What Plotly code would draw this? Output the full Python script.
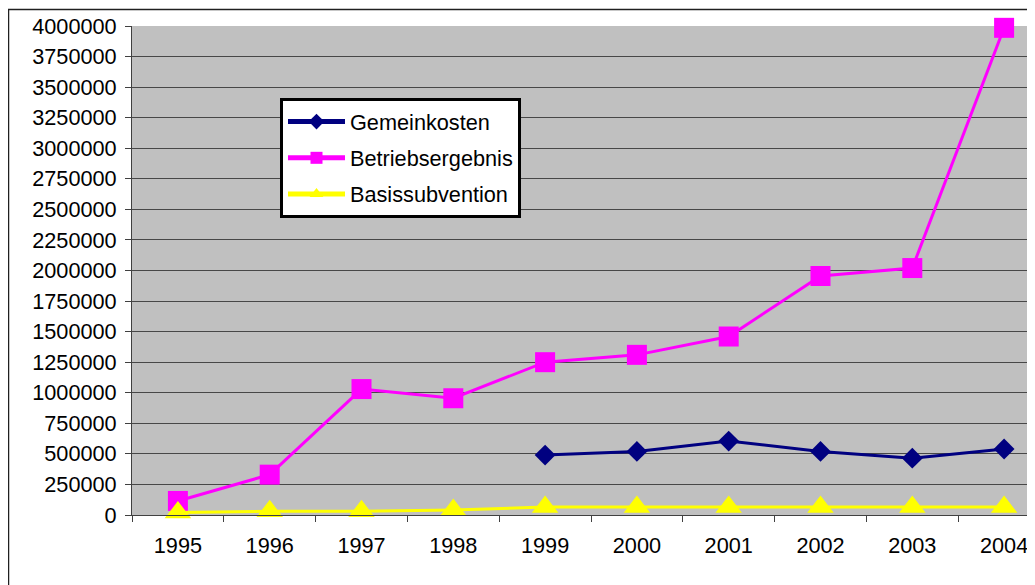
import plotly.graph_objects as go

years = ["1995", "1996", "1997", "1998", "1999", "2000", "2001", "2002", "2003", "2004"]
gk_years = ["1999", "2000", "2001", "2002", "2003", "2004"]
gemeinkosten = [490000, 520000, 605000, 520000, 465000, 540000]
betriebsergebnis = [115000, 330000, 1030000, 955000, 1250000, 1310000, 1460000, 1955000, 2020000, 3985000]
basissubvention = [20000, 30000, 30000, 40000, 65000, 65000, 65000, 65000, 65000, 65000]
y_ticks = list(range(0, 4000001, 250000))

FONT = "Liberation Sans, Arial, sans-serif"
FS = 21.7

fig = go.Figure()
fig.add_trace(go.Scatter(
    x=gk_years, y=gemeinkosten, name="Gemeinkosten", mode="lines+markers",
    line=dict(color="#000080", width=3),
    marker=dict(symbol="diamond", size=16, color="#000080"),
    cliponaxis=False, legendgroup="a"))
fig.add_trace(go.Scatter(
    x=years, y=betriebsergebnis, name="Betriebsergebnis", mode="lines+markers",
    line=dict(color="#FF00FF", width=3),
    marker=dict(symbol="square", size=20, color="#FF00FF"),
    cliponaxis=False, legendgroup="b"))
fig.add_trace(go.Scatter(
    x=years, y=basissubvention, name="Basissubvention", mode="lines+markers",
    line=dict(color="#FFFF00", width=3),
    marker=dict(symbol="triangle-up", size=23, color="#FFFF00"),
    cliponaxis=False, legendgroup="c"))

# page body has an 8px margin; figure is sized/offset to compensate
OFF = 8
W, H = 1035 - OFF, 585 - OFF
L, T = 132 - OFF, 26 - OFF
B = H - (515 - OFF)
pw = W - L
ph = H - T - B

fig.update_layout(
    width=W, height=H,
    margin=dict(l=L, r=0, t=T, b=B, pad=0),
    paper_bgcolor="white",
    plot_bgcolor="#C0C0C0",
    font=dict(family=FONT, size=FS, color="black"),
    showlegend=True,
    legend=dict(
        x=(280 - 132) / pw, y=(515 - 98) / ph, xanchor="left", yanchor="top",
        bgcolor="white", bordercolor="black", borderwidth=3,
        font=dict(family=FONT, size=FS, color="black"),
        traceorder="grouped", tracegroupgap=5, itemwidth=57,
        itemsizing="constant",
    ),
    xaxis=dict(
        type="category", categoryorder="array", categoryarray=years,
        range=[-0.5, (1035 - 132) / 91.8 - 0.5],
        tickson="boundaries", ticks="outside", ticklen=6, tickcolor="#404040",
        showgrid=False, showline=True, linecolor="#404040", linewidth=1,
        ticklabelstandoff=11, tickfont=dict(family=FONT, size=FS, color="black"),
    ),
    yaxis=dict(
        range=[0, 4000000], tickmode="array", tickvals=y_ticks,
        ticktext=[str(v) for v in y_ticks],
        ticks="outside", ticklen=6, tickcolor="#404040",
        showgrid=True, gridcolor="#474747", gridwidth=1,
        zeroline=False, showline=True, linecolor="#404040", linewidth=1,
        ticklabelstandoff=4, tickfont=dict(family=FONT, size=FS, color="black"),
    ),
    shapes=[dict(
        type="rect", xref="paper", yref="paper",
        x0=-(L - 0.5) / pw, x1=1.2, y0=-0.3, y1=1 + (T - 1.5) / ph,
        line=dict(color="#202020", width=1.5), fillcolor="rgba(0,0,0,0)", layer="below",
    )],
)

fig.write_html("out.html")
